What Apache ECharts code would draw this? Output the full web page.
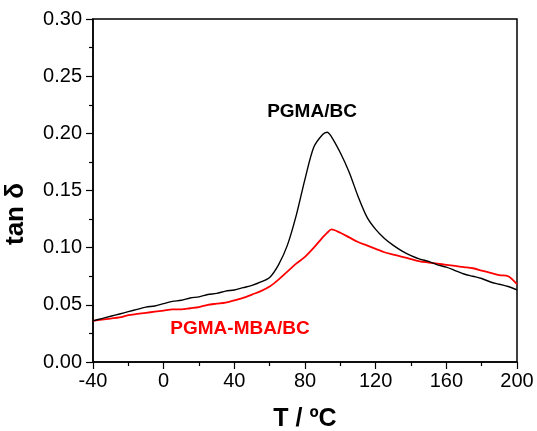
<!DOCTYPE html>
<html><head><meta charset="utf-8">
<script src="https://cdn.jsdelivr.net/npm/echarts@6/dist/echarts.min.js"></script>
<style>html,body{margin:0;padding:0;background:#fff}#c{width:537px;height:431px}</style>
</head><body><div id="c"></div>
<script>
var temps = [-40,-35,-30,-25,-20,-15,-10,-5,0,5,10,15,20,25,30,35,40,45,50,55,60,65,70,75,80,85,90,92.5,95,100,105,110,115,120,125,130,135,140,145,150,155,160,165,170,175,180,185,190,195,200];
var pgmaBC = [0.036,0.038,0.040,0.042,0.044,0.046,0.048,0.049,0.051,0.053,0.054,0.056,0.057,0.059,0.060,0.062,0.063,0.065,0.067,0.070,0.074,0.085,0.102,0.128,0.160,0.188,0.199,0.201,0.197,0.183,0.166,0.145,0.127,0.116,0.108,0.102,0.097,0.093,0.090,0.088,0.085,0.083,0.080,0.077,0.075,0.073,0.070,0.068,0.066,0.063];
var pgmaMbaBC = [0.036,0.037,0.038,0.039,0.041,0.042,0.043,0.044,0.045,0.046,0.046,0.047,0.048,0.050,0.051,0.052,0.054,0.056,0.059,0.062,0.066,0.072,0.079,0.086,0.092,0.100,0.109,0.113,0.116,0.113,0.109,0.105,0.102,0.099,0.096,0.094,0.092,0.090,0.088,0.087,0.086,0.085,0.084,0.083,0.082,0.080,0.078,0.076,0.075,0.068];
var xTicks = {min:-40, max:200, interval:40};
var yTicks = {min:0, max:0.30, interval:0.05};

function pairs(xs, ys){ return xs.map(function(x,i){ return [x, ys[i]]; }); }

var chart = echarts.init(document.getElementById('c'));
var font = '"Liberation Sans", Arial, sans-serif';
chart.setOption({
  animation:false,
  grid:{left:93, right:20, top:19, bottom:69, show:true, borderColor:'#000', borderWidth:1.5},
  xAxis:{type:'value', min:xTicks.min, max:xTicks.max, interval:xTicks.interval,
    axisLine:{show:true, onZero:false, lineStyle:{color:'#000', width:1.5}},
    axisTick:{show:true, inside:false, length:7, lineStyle:{color:'#000', width:1.2}},
    minorTick:{show:true, splitNumber:2, length:4, lineStyle:{color:'#000', width:1.2}},
    axisLabel:{fontFamily:font, fontSize:20, color:'#000', margin:9},
    splitLine:{show:false}},
  yAxis:{type:'value', min:yTicks.min, max:yTicks.max, interval:yTicks.interval,
    axisLine:{show:true, onZero:false, lineStyle:{color:'#000', width:1.5}},
    axisTick:{show:true, inside:false, length:7, lineStyle:{color:'#000', width:1.2}},
    minorTick:{show:true, splitNumber:2, length:4, lineStyle:{color:'#000', width:1.2}},
    axisLabel:{fontFamily:font, fontSize:20, color:'#000', margin:11,
      formatter:function(v){return v.toFixed(2);}},
    splitLine:{show:false}},
  series:[
    {name:'PGMA/BC', type:'line', data:pairs(temps,pgmaBC), showSymbol:false, smooth:0.3,
     lineStyle:{color:'#000', width:1.4}, z:3},
    {name:'PGMA-MBA/BC', type:'line', data:pairs(temps,pgmaMbaBC), showSymbol:false, smooth:0.3,
     lineStyle:{color:'#ff0000', width:1.8}, z:2}
  ],
  graphic:[
    {type:'text', x:312, y:112, style:{text:'PGMA/BC', fill:'#000', align:'center', verticalAlign:'middle', font:'bold 19px "Liberation Sans", Arial, sans-serif'}},
    {type:'text', x:240, y:329, style:{text:'PGMA-MBA/BC', fill:'#ff0000', align:'center', verticalAlign:'middle', font:'bold 19px "Liberation Sans", Arial, sans-serif'}},
    {type:'text', x:305, y:419, style:{text:'T / ºC', fill:'#000', align:'center', verticalAlign:'middle', font:'bold 25px "Liberation Sans", Arial, sans-serif'}},
    {type:'text', x:16, y:214, rotation:Math.PI/2, style:{text:'tan δ', fill:'#000', align:'center', verticalAlign:'middle', font:'bold 26px "Liberation Sans", Arial, sans-serif'}}
  ]
});
</script></body></html>
